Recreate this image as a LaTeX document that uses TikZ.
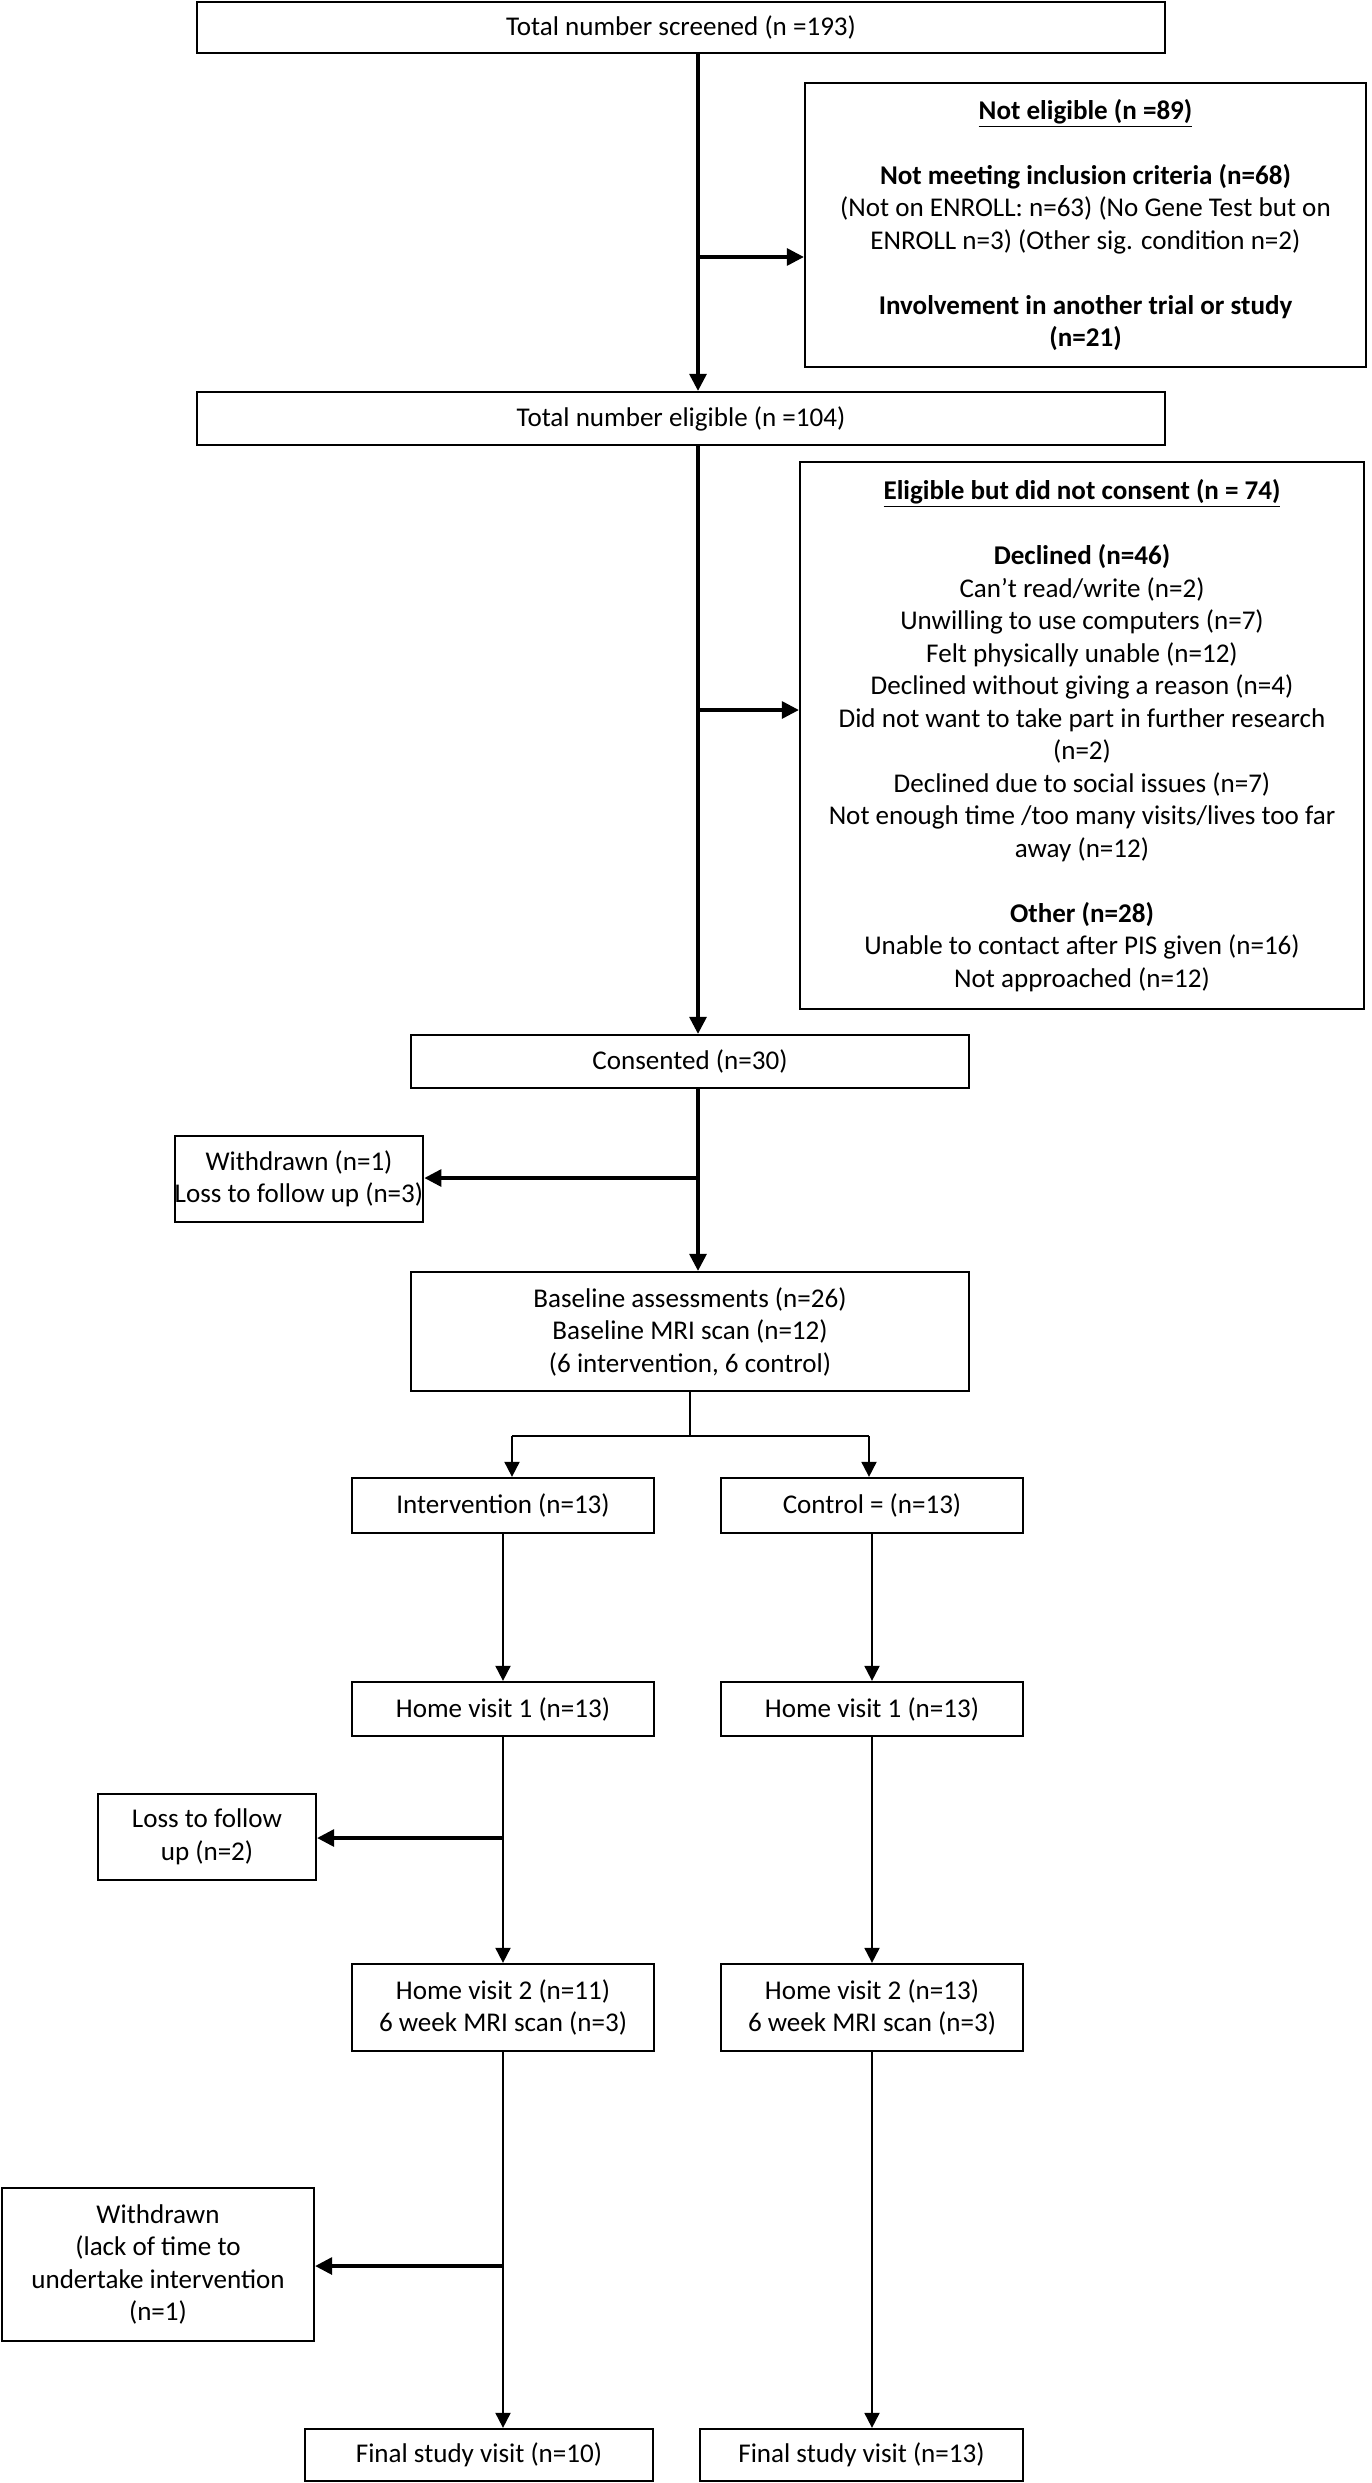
\documentclass[tikz,border=0pt]{standalone}
\usepackage{fontspec}
\setmainfont{Carlito}
\usetikzlibrary{arrows.meta}

\tikzset{
  box/.style={draw, line width=1.3pt, align=center, inner sep=0pt,
    font=\fontsize{15.4}{18.5}\selectfont},
  flow/.style={line width=1.8pt, -{Triangle[length=3.4mm, width=3.4mm]}},
  thinflow/.style={line width=1.1pt, -{Triangle[length=3mm, width=3mm]}},
}

\begin{document}
\begin{tikzpicture}[x=0.2mm, y=-0.2mm]
  \useasboundingbox (0,0) rectangle (1371,2483);

  \node[box, minimum width=193.6mm, minimum height=10.2mm] (screened) at (681,27.5) {Total number screened (n =193)};
  \node[box, minimum width=112.2mm, minimum height=56.8mm] (notelig) at (1085.5,225) {\underline{\textbf{Not eligible (n =89)}}\\[18.5pt]
    \textbf{Not meeting inclusion criteria (n=68)}\\
    (Not on ENROLL: n=63) (No Gene Test but on\\
    ENROLL n=3) (Other sig. condition n=2)\\[18.5pt]
    \textbf{Involvement in another trial or study}\\
    \textbf{(n=21)}};
  \node[box, minimum width=193.6mm, minimum height=10.6mm] (eligible) at (681,418.5) {Total number eligible (n =104)};
  \node[box, minimum width=112.8mm, minimum height=109.4mm] (noconsent) at (1082,735.5) {\underline{\textbf{Eligible but did not consent (n = 74)}}\\[18.5pt]
    \textbf{Declined (n=46)}\\
    Can’t read/write (n=2)\\
    Unwilling to use computers (n=7)\\
    Felt physically unable (n=12)\\
    Declined without giving a reason (n=4)\\
    Did not want to take part in further research\\
    (n=2)\\
    Declined due to social issues (n=7)\\
    Not enough time /too many visits/lives too far\\
    away (n=12)\\[18.5pt]
    \textbf{Other (n=28)}\\
    Unable to contact after PIS given (n=16)\\
    Not approached (n=12)};
  \node[box, minimum width=111.6mm, minimum height=10.6mm] (consented) at (690,1061.5) {Consented (n=30)};
  \node[box, minimum width=44.8mm, minimum height=17.2mm] (withdrawn) at (299,1179) {Withdrawn (n=1)\\Loss to follow up (n=3)};
  \node[box, minimum width=111.6mm, minimum height=23.8mm] (baseline) at (690,1331.5) {Baseline assessments (n=26)\\Baseline MRI scan (n=12)\\(6 intervention, 6 control)};

  \node[box, minimum width=60.4mm, minimum height=11mm] (interv) at (503,1505.5) {Intervention (n=13)};
  \node[box, minimum width=60.4mm, minimum height=11mm] (control) at (872,1505.5) {Control = (n=13)};
  \node[box, minimum width=60.4mm, minimum height=10.8mm] (homel1) at (503,1709) {Home visit 1 (n=13)};
  \node[box, minimum width=60.4mm, minimum height=10.8mm] (homer1) at (872,1709) {Home visit 1 (n=13)};
  \node[box, minimum width=43.6mm, minimum height=17.2mm] (loss) at (207,1837) {Loss to follow\\up (n=2)};
  \node[box, minimum width=60.4mm, minimum height=17.4mm] (homel2) at (503,2007.5) {Home visit 2 (n=11)\\6 week MRI scan (n=3)};
  \node[box, minimum width=60.4mm, minimum height=17.4mm] (homer2) at (872,2007.5) {Home visit 2 (n=13)\\6 week MRI scan (n=3)};
  \node[box, minimum width=62.4mm, minimum height=30.6mm] (withdrawnb) at (158,2264.5) {Withdrawn\\(lack of time to\\undertake intervention\\(n=1)};
  \node[box, minimum width=69.6mm, minimum height=10.4mm] (finall) at (479,2455) {Final study visit (n=10)};
  \node[box, minimum width=64.6mm, minimum height=10.4mm] (finalr) at (861.5,2455) {Final study visit (n=13)};

  \coordinate (spinea) at (698,257);
  \coordinate (spineb) at (698,710);
  \coordinate (spinec) at (698,1178);
  \draw[flow] (screened.south -| spinea) -- (eligible.north -| spinea);
  \draw[flow] (spinea) -- (notelig.west |- spinea);
  \draw[flow] (eligible.south -| spineb) -- (consented.north -| spineb);
  \draw[flow] (spineb) -- (noconsent.west |- spineb);
  \draw[flow] (consented.south -| spinec) -- (baseline.north -| spinec);
  \draw[flow] (spinec) -- (withdrawn.east |- spinec);

  \coordinate (split) at (690,1436);
  \coordinate (splitl) at (512,1436);
  \coordinate (splitr) at (869,1436);
  \draw[line width=0.6pt] (baseline.south -| split) -- (split);
  \draw[line width=1.1pt] (splitl) -- (splitr);
  \draw[thinflow] (splitl) -- (splitl |- interv.north);
  \draw[thinflow] (splitr) -- (splitr |- control.north);

  \coordinate (lossp) at (503,1838);
  \coordinate (wdp) at (503,2266);
  \draw[thinflow] (interv) -- (homel1);
  \draw[thinflow] (control) -- (homer1);
  \draw[thinflow] (homel1) -- (homel2);
  \draw[thinflow] (homer1) -- (homer2);
  \draw[flow] (lossp) -- (loss.east |- lossp);
  \draw[thinflow] (homel2.south) -- (homel2.south |- finall.north);
  \draw[thinflow] (homer2.south) -- (homer2.south |- finalr.north);
  \draw[flow] (wdp) -- (withdrawnb.east |- wdp);
\end{tikzpicture}
\end{document}
